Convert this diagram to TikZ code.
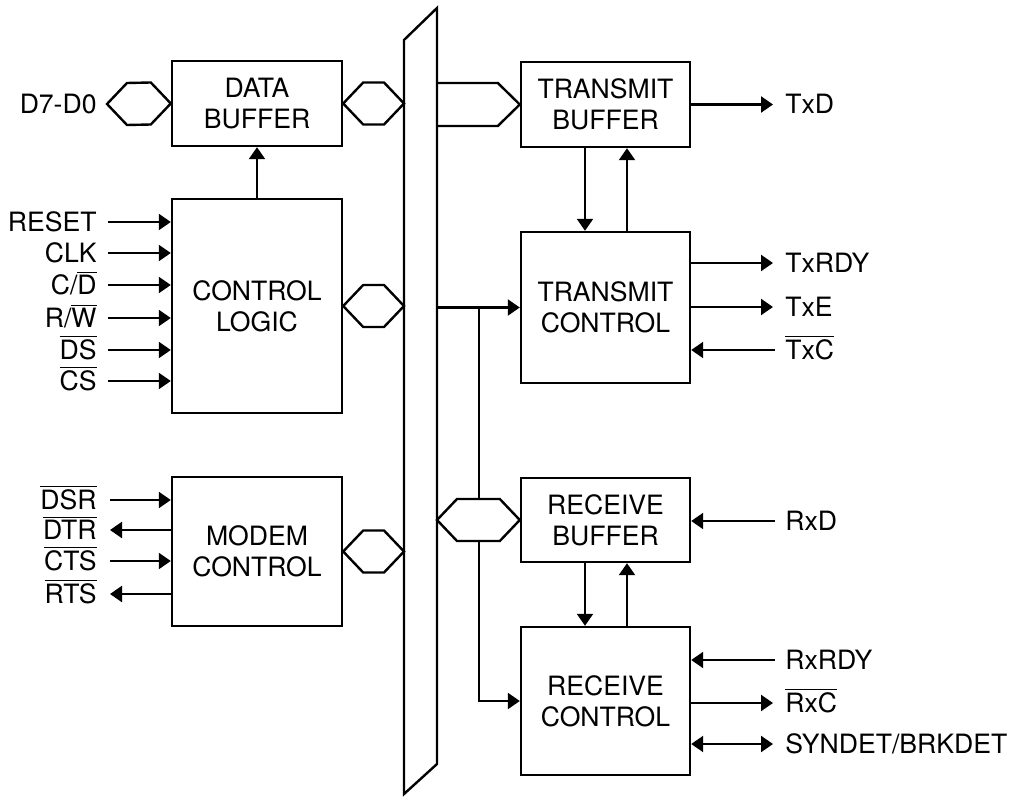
\documentclass[tikz,border=0pt]{standalone}
\usepackage{fontspec}
\setmainfont{TeX Gyre Heros}
\usetikzlibrary{arrows.meta,calc}
\newcommand\ovl[1]{\ensuremath{\overline{\mbox{#1}}}}
\begin{document}
\begin{tikzpicture}[x=0.5pt,y=-0.5pt,
  txt/.style={font=\fontsize{13.3}{15.5}\selectfont},
  blk/.style={draw,line width=1.2pt,minimum width=85pt,align=center,inner sep=0pt,txt},
  sig/.style={line width=1.1pt,-{Triangle[length=6pt,width=8pt]}},
  sigL/.style={line width=1.1pt,{Triangle[length=6pt,width=8pt]}-},
  sigB/.style={line width=1.1pt,{Triangle[length=6pt,width=8pt]}-{Triangle[length=6pt,width=8pt]}},
  busline/.style={line width=1.2pt,line join=miter},
  hexb/.style={busline,fill=white},
  lblL/.style={anchor=base east,yshift=-4.7pt,inner sep=0pt,txt},
  lblR/.style={anchor=base west,yshift=-4.7pt,inner sep=0pt,txt}]
\useasboundingbox (0,0) rectangle (1015,796);

% hexagonal bus connector between two points on one level
\newcommand\hexbus[2]{%
  \draw[hexb] (#1) -- ++(20,-21) -- ($(#2)+(-20,-21)$) -- (#2)
    -- ++(-20,21) -- ($(#1)+(20,21)$) -- cycle;}

% internal data bus
\coordinate (busL) at (404,0);
\coordinate (busR) at (437,0);
\draw[busline] (404,40) -- (437,8) -- (437,764) -- (404,794) -- cycle;

% functional blocks
\node[blk,minimum height=42.5pt] (db) at (257,103.5) {DATA\\BUFFER};
\node[blk,minimum height=107pt]  (cl) at (257,306)   {CONTROL\\LOGIC};
\node[blk,minimum height=74.5pt] (mc) at (257,551.5) {MODEM\\CONTROL};
\node[blk,minimum width=84.5pt,minimum height=42.5pt] (tb) at (605.5,104.5) {TRANSMIT\\BUFFER};
\node[blk,minimum width=84.5pt,minimum height=75.5pt] (tc) at (605.5,307.5) {TRANSMIT\\CONTROL};
\node[blk,minimum width=84.5pt,minimum height=42pt]   (rb) at (605.5,520)   {RECEIVE\\BUFFER};
\node[blk,minimum width=84.5pt,minimum height=74pt]   (rc) at (605.5,701)   {RECEIVE\\CONTROL};

% external data bus
\node[lblL] (l-d) at (97,104) {D7-D0};
\coordinate (d70) at (107,104);
\hexbus{d70}{db.west}

% block to bus connections
\hexbus{db.east}{db.east -| busL}
\hexbus{cl.east}{cl.east -| busL}
\hexbus{mc.east}{mc.east -| busL}

% control logic drives data buffer
\draw[sig] (cl.north) -- (db.south);

% control logic inputs
\foreach \nm/\y/\t in {reset/222/RESET, clk/253/CLK, cd/285/{C/\ovl{D}},
                        rw/318/{R/\ovl{W}}, ds/350/\ovl{DS}, cs/381/\ovl{CS}}{
  \node[lblL] (l-\nm) at (97,\y) {\t};
  \coordinate (s-\nm) at (108,\y);
  \draw[sig] (s-\nm) -- (s-\nm -| cl.west);
}

% modem control lines
\foreach \nm/\y/\t/\st in {dsr/500/DSR/sig, dtr/530/DTR/sigL, cts/561/CTS/sig, rts/594/RTS/sigL}{
  \node[lblL] (l-\nm) at (97,\y) {\ovl{\t}};
  \coordinate (s-\nm) at (110,\y);
  \draw[\st] (s-\nm) -- (s-\nm -| mc.west);
}

% bus into transmit buffer
\draw[busline] ($(busR |- tb.west)+(0,-21.5)$) -- ($(tb.west)+(-22,-21.5)$) -- (tb.west)
  -- ($(tb.west)+(-22,21.5)$) -- ($(busR |- tb.west)+(0,21.5)$);

% transmit buffer <-> transmit control
\draw[sig] ($(tb.south)+(-20.5,0)$) -- ($(tc.north)+(-20.5,0)$);
\draw[sig] ($(tc.north)+(21.5,0)$) -- ($(tb.south)+(21.5,0)$);

% receive buffer <-> receive control
\draw[sig] ($(rb.south)+(-20.5,0)$) -- ($(rc.north)+(-20.5,0)$);
\draw[sig] ($(rc.north)+(21.5,0)$) -- ($(rb.south)+(21.5,0)$);

% control lines from the bus to transmit and receive control
\coordinate (j1) at (479,307.5);
\draw[sig] (busR |- tc.west) -- (tc.west);
\draw[sig] (j1) -- (j1 |- rc.west) -- (rc.west);
\hexbus{busR |- rb.west}{rb.west}

% serial side signals
\node[lblR] (l-txd) at (785,104.5) {TxD};
\coordinate (s-txd) at (773,104.5);
\draw[sig] (tb.east |- s-txd) -- (s-txd);

\node[lblR] (l-txrdy) at (785,263) {TxRDY};
\coordinate (s-txrdy) at (773,263);
\draw[sig] (tc.east |- s-txrdy) -- (s-txrdy);

\node[lblR] (l-txe) at (785,307) {TxE};
\coordinate (s-txe) at (773,307);
\draw[sig] (tc.east |- s-txe) -- (s-txe);

\node[lblR] (l-txc) at (785,350) {\ovl{TxC}};
\coordinate (s-txc) at (775,350);
\draw[sig] (s-txc) -- (s-txc -| tc.east);

\node[lblR] (l-rxd) at (785,521) {RxD};
\coordinate (s-rxd) at (775,521);
\draw[sig] (s-rxd) -- (s-rxd -| rb.east);

\node[lblR] (l-rxrdy) at (785,660) {RxRDY};
\coordinate (s-rxrdy) at (775,660);
\draw[sig] (s-rxrdy) -- (s-rxrdy -| rc.east);

\node[lblR] (l-rxc) at (785,703) {\ovl{RxC}};
\coordinate (s-rxc) at (773,703);
\draw[sig] (rc.east |- s-rxc) -- (s-rxc);

\node[lblR] (l-syn) at (785,744) {SYNDET/BRKDET};
\coordinate (s-syn) at (773,744);
\draw[sigB] (rc.east |- s-syn) -- (s-syn);
\end{tikzpicture}
\end{document}
